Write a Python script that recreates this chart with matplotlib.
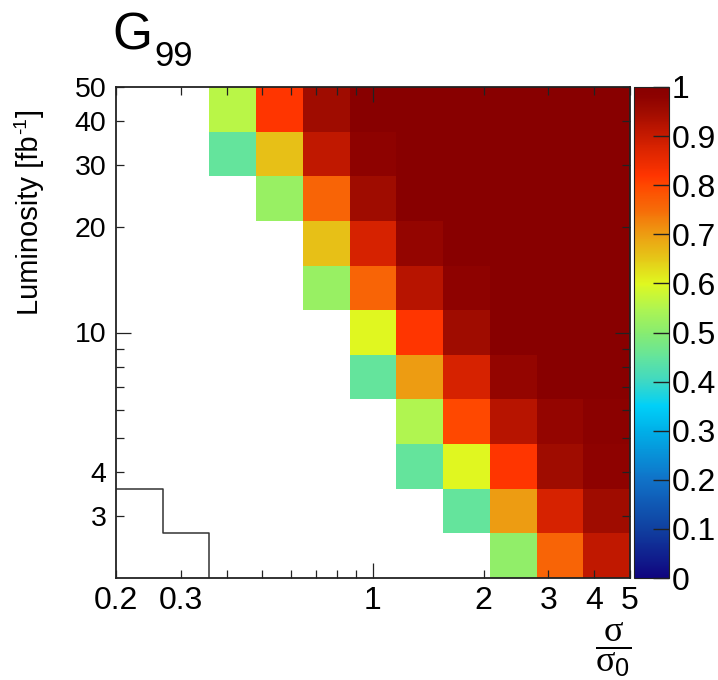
import numpy as np
import matplotlib
matplotlib.use("Agg")
import matplotlib.pyplot as plt
from matplotlib.colors import LinearSegmentedColormap
from matplotlib.ticker import FixedLocator, FixedFormatter

plt.rcParams['font.family'] = ['Liberation Sans', 'DejaVu Sans']
plt.rcParams['mathtext.fontset'] = 'custom'
plt.rcParams['mathtext.rm'] = 'Liberation Serif'
plt.rcParams['mathtext.it'] = 'Liberation Serif:italic'
plt.rcParams['mathtext.sf'] = 'Liberation Sans'

# ---- binning -------------------------------------------------------------
sigma_range = (0.2, 5.0)      # sigma / sigma_0
lumi_range = (2.0, 50.0)      # integrated luminosity [fb^-1]
n_sigma_bins = 11
n_lumi_bins = 11

# ---- G99 fraction per bin (rows: luminosity bins from lowest upward) -----
E = np.nan  # empty bin
g99 = [
    [E, E, E,    E,    E,    E,    E,    E,    0.51, 0.76, 0.91],
    [E, E, E,    E,    E,    E,    E,    0.45, 0.70, 0.88, 0.95],
    [E, E, E,    E,    E,    E,    0.45, 0.60, 0.82, 0.95, 0.98],
    [E, E, E,    E,    E,    E,    0.55, 0.80, 0.92, 0.97, 0.99],
    [E, E, E,    E,    E,    0.45, 0.70, 0.88, 0.97, 1.00, 1.00],
    [E, E, E,    E,    E,    0.60, 0.82, 0.95, 1.00, 1.00, 1.00],
    [E, E, E,    E,    0.52, 0.76, 0.92, 0.98, 1.00, 1.00, 1.00],
    [E, E, E,    E,    0.66, 0.88, 0.97, 1.00, 1.00, 1.00, 1.00],
    [E, E, E,    0.52, 0.76, 0.95, 1.00, 1.00, 1.00, 1.00, 1.00],
    [E, E, 0.45, 0.66, 0.91, 0.98, 1.00, 1.00, 1.00, 1.00, 1.00],
    [E, E, 0.56, 0.82, 0.95, 1.00, 1.00, 1.00, 1.00, 1.00, 1.00],
]

# region outlined at low sigma / low luminosity: number of bins per row
outline_cols = [2, 1]

# ---- axis ticks ----------------------------------------------------------
x_minor_ticks = [0.2, 0.3, 0.4, 0.5, 0.6, 0.7, 0.8, 0.9, 2, 3, 4, 5]
x_minor_labels = ['0.2', '0.3', '', '', '', '', '', '', '2', '3', '4', '5']
x_major_ticks = [1]
x_major_labels = ['1']
y_minor_ticks = [3, 4, 5, 6, 7, 8, 9, 20, 30, 40, 50]
y_minor_labels = ['3', '4', '', '', '', '', '', '20', '30', '40', '50']
y_major_ticks = [10]
y_major_labels = ['10']
z_ticks = [0, 0.1, 0.2, 0.3, 0.4, 0.5, 0.6, 0.7, 0.8, 0.9, 1.0]
z_labels = ['0', '0.1', '0.2', '0.3', '0.4', '0.5', '0.6', '0.7', '0.8', '0.9', '1']

# ---- palette -------------------------------------------------------------
palette = [
    (0.00, '#10057f'), (0.10, '#1040a0'), (0.20, '#1072c8'),
    (0.30, '#00b0e8'), (0.35, '#00d0f8'), (0.40, '#3ed8c4'),
    (0.45, '#64e49c'), (0.50, '#88ec70'), (0.55, '#b0f550'),
    (0.60, '#e0f820'), (0.65, '#e5c818'), (0.70, '#ed9d12'),
    (0.75, '#f66c08'), (0.80, '#ff4800'), (0.82, '#ff3500'),
    (0.88, '#d62200'), (0.92, '#b81400'), (0.95, '#a00c00'),
    (0.98, '#8e0200'), (1.00, '#880000'),
]
cmap = LinearSegmentedColormap.from_list('g99', palette, N=512)

W, H = 718, 680
fig = plt.figure(figsize=(W / 100, H / 100), dpi=100)
ax = fig.add_axes([116 / W, 1 - 578 / H, (630 - 116) / W, (578 - 87) / H])

x_edges = np.geomspace(sigma_range[0], sigma_range[1], n_sigma_bins + 1)
y_edges = np.geomspace(lumi_range[0], lumi_range[1], n_lumi_bins + 1)
z = np.ma.masked_invalid(np.array(g99, dtype=float))

mesh = ax.pcolormesh(x_edges, y_edges, z, cmap=cmap, vmin=0, vmax=1,
                     shading='flat', linewidth=0, antialiased=False)

# outline of the low corner region, built from the bin edges
pts = [(x_edges[0], y_edges[len(outline_cols)])]
for r in reversed(range(len(outline_cols))):
    pts.append((x_edges[outline_cols[r]], y_edges[r + 1]))
    pts.append((x_edges[outline_cols[r]], y_edges[r]))
px, py = zip(*pts)
ax.plot(px, py, color='#333333', lw=1.1, zorder=3)

ax.set_xscale('log')
ax.set_yscale('log')
ax.set_xlim(*sigma_range)
ax.set_ylim(*lumi_range)

ax.xaxis.set_major_locator(FixedLocator(x_major_ticks))
ax.xaxis.set_major_formatter(FixedFormatter(x_major_labels))
ax.xaxis.set_minor_locator(FixedLocator(x_minor_ticks))
ax.xaxis.set_minor_formatter(FixedFormatter(x_minor_labels))
ax.yaxis.set_major_locator(FixedLocator(y_major_ticks))
ax.yaxis.set_major_formatter(FixedFormatter(y_major_labels))
ax.yaxis.set_minor_locator(FixedLocator(y_minor_ticks))
ax.yaxis.set_minor_formatter(FixedFormatter(y_minor_labels))

for which, length in (('major', 10.5), ('minor', 5.5)):
    ax.tick_params(axis='both', which=which, direction='in', length=length,
                   width=0.9, color='#222222', top=True, right=True, zorder=4)
ax.tick_params(axis='x', which='both', pad=6, labelsize=23)
ax.tick_params(axis='y', which='both', pad=7, labelsize=20.5)
for s in ax.spines.values():
    s.set_linewidth(1.3)
    s.set_color('#222222')
    s.set_zorder(5)

# ---- colour scale --------------------------------------------------------
cax = fig.add_axes([634 / W, 1 - 578 / H, (669 - 634) / W, (578 - 87) / H])
cb = fig.colorbar(mesh, cax=cax)
cb.set_ticks(z_ticks)
cb.set_ticklabels(z_labels)
cb.outline.set_linewidth(0.8)
cb.outline.set_edgecolor('#222222')
cax.tick_params(axis='y', which='major', direction='in', length=11.5,
                width=1.0, color='#222222', labelsize=23, pad=2)
cax.minorticks_off()

# ---- titles --------------------------------------------------------------
fig.text(112 / W, 1 - 50 / H, 'G', fontsize=37, ha='left', va='baseline')
fig.text(154 / W, 1 - 66 / H, '99', fontsize=25, ha='left', va='baseline')

# y title written upward, with a raised "-1"
renderer = fig.canvas.get_renderer()
base_x, start_y = 38, 315          # baseline x and start of the text (pixels from top)
ylab_kw = dict(rotation=90, rotation_mode='anchor', ha='left', va='baseline')
t_main = fig.text(base_x / W, 1 - start_y / H, 'Luminosity [fb',
                  fontsize=21, **ylab_kw)
len_main = t_main.get_window_extent(renderer).height
t_sup = fig.text((base_x - 12) / W, 1 - (start_y - len_main - 1) / H, '-1',
                 fontsize=13.5, **ylab_kw)
len_sup = t_sup.get_window_extent(renderer).height
fig.text(base_x / W, 1 - (start_y - len_main - len_sup - 2) / H, ']',
         fontsize=21, **ylab_kw)

# sigma / sigma_0 fraction under the x axis
fig.text(613 / W, 1 - 650 / H, r'$\dfrac{\mathrm{\sigma}}{\mathrm{\sigma}_{\mathsf{0}}}$',
         fontsize=26, ha='center', va='center')

fig.savefig('out.png', dpi=100)
